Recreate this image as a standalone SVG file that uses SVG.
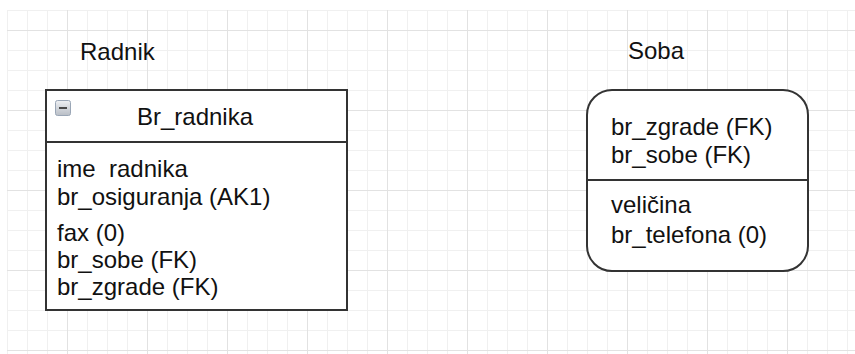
<svg xmlns="http://www.w3.org/2000/svg" width="855" height="354" viewBox="0 0 855 354">
  <defs>
    <pattern id="minor" patternUnits="userSpaceOnUse" x="7" y="10" width="20" height="20">
      <path d="M0.5 0 V20 M0 0.5 H20" fill="none" stroke="#f0f0f0" stroke-width="1"/>
    </pattern>
    <pattern id="major" patternUnits="userSpaceOnUse" x="67" y="30" width="80" height="80">
      <path d="M0.5 0 V80 M0 0.5 H80" fill="none" stroke="#e2e2e2" stroke-width="1"/>
    </pattern>
    <linearGradient id="iconFill" x1="0" y1="0" x2="0" y2="1">
      <stop offset="0" stop-color="#eef0f3"/>
      <stop offset="1" stop-color="#b9bec6"/>
    </linearGradient>
  </defs>
  <style>
    text { font-family: "Liberation Sans", Arial, sans-serif; font-size: 24px; fill: #111; }
    .box { fill: #ffffff; stroke: #333333; stroke-width: 2; }
    .sep { stroke: #333333; stroke-width: 2; }
    .pre { white-space: pre; }
  </style>
  <rect x="0" y="0" width="855" height="354" fill="#ffffff"/>
  <rect x="7" y="10" width="848" height="344" fill="url(#minor)"/>
  <rect x="7" y="10" width="848" height="344" fill="url(#major)"/>

  <g id="radnik">
    <text x="80" y="60">Radnik</text>
    <rect class="box" x="46" y="90" width="301" height="220"/>
    <line class="sep" x1="46" y1="142" x2="347" y2="142"/>
    <g id="collapse-icon">
      <rect x="55.5" y="100.5" width="15" height="15" rx="2" fill="url(#iconFill)" stroke="#9aa6b6" stroke-width="1"/>
      <rect x="59" y="107" width="8" height="2" fill="#4a4a4a"/>
    </g>
    <text x="195" y="125" text-anchor="middle">Br_radnika</text>
    <text x="57" y="177" class="pre" xml:space="preserve">ime  radnika</text>
    <text x="57" y="205">br_osiguranja (AK1)</text>
    <text x="57" y="241">fax (0)</text>
    <text x="57" y="268">br_sobe (FK)</text>
    <text x="57" y="295">br_zgrade (FK)</text>
  </g>

  <g id="soba">
    <text x="628" y="59">Soba</text>
    <rect class="box" x="587" y="90" width="221" height="181" rx="25" ry="25"/>
    <line class="sep" x1="587" y1="180" x2="808" y2="180"/>
    <text x="611" y="135">br_zgrade (FK)</text>
    <text x="611" y="163">br_sobe (FK)</text>
    <text x="611" y="213">veličina</text>
    <text x="611" y="243">br_telefona (0)</text>
  </g>

  <g id="connectors"></g>
</svg>
